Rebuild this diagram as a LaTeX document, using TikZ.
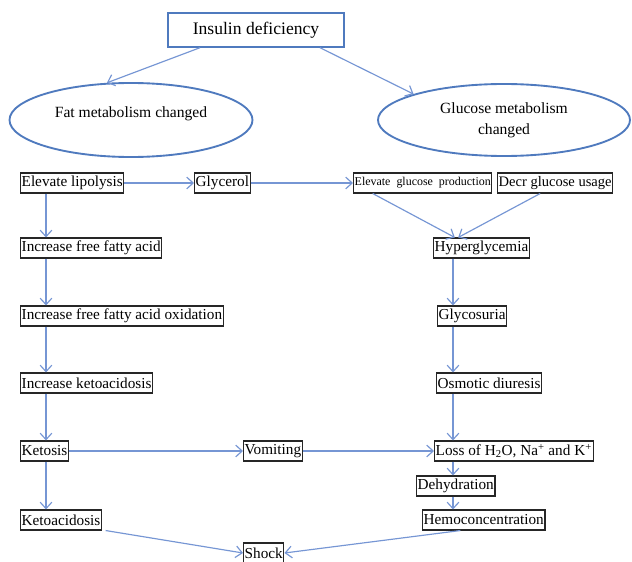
\documentclass[tikz,border=0pt]{standalone}
\usepackage{fontspec}
\setmainfont{Liberation Serif}
\usepackage{tikz}
\usetikzlibrary{shapes.geometric,arrows.meta}
\definecolor{lineblue}{RGB}{118,150,212}
\definecolor{shapeblue}{RGB}{79,122,190}

\begin{document}
\begin{tikzpicture}
[x=0.03cm,y=-0.03cm,
head/.style={rectangle,draw=shapeblue,line width=1.2pt,minimum width=5.28cm,minimum height=1.02cm,font=\fontsize{15}{17}\selectfont},
oval/.style={ellipse,draw=shapeblue,line width=1.6pt,font=\fontsize{13.3}{18}\selectfont,align=center,inner sep=0pt},
stepbox/.style={rectangle,draw=black!85,line width=0.9pt,inner xsep=1pt,inner ysep=0pt,minimum height=0.6cm,anchor=west,font=\fontsize{13}{15}\selectfont},
smallbox/.style={stepbox,font=\fontsize{10.2}{12}\selectfont},
flow/.style={->,draw=lineblue,line width=1pt,>={Straight Barb[length=5.5pt,width=10pt]}}]

\useasboundingbox (0,0) rectangle (632,562);
\coordinate (lcol) at (46,0);
\coordinate (rcol) at (453,0);

\node at (256,30) [head] (insulin) {Insulin deficiency};
\node at (131,120) [oval,minimum width=7.29cm,minimum height=2.22cm,text depth=13pt] (fat) {Fat metabolism changed};
\node at (504,120) [oval,minimum width=7.56cm,minimum height=2.16cm] (glucose) {Glucose metabolism\\changed};

% fat side
\node at (20,183) [stepbox] (lipo)    {Elevate lipolysis};
\node at (194,183)[stepbox] (glycerol){Glycerol};
\node at (20,248) [stepbox] (ffa)     {Increase free fatty acid};
\node at (20,316) [stepbox] (ffaox)   {Increase free fatty acid oxidation};
\node at (20,383) [stepbox] (incketo) {Increase ketoacidosis};
\node at (20,451) [stepbox] (ketosis) {Ketosis};
\node at (20,520) [stepbox] (ketoac)  {Ketoacidosis};
\node at (243,451)[stepbox] (vomit)   {Vomiting};
\node at (243,553)[stepbox] (shock)   {Shock};

% glucose side
\node at (353,183)[smallbox](prod)    {Elevate\ \ glucose\ \ production};
\node at (497,183)[stepbox,font=\fontsize{12.4}{15}\selectfont] (usage) {Decr glucose usage};
\node at (433,248)[stepbox] (hyper)   {Hyperglycemia};
\node at (437,316)[stepbox] (glycos)  {Glycosuria};
\node at (436,383)[stepbox] (osmo)    {Osmotic diuresis};
\node at (434,451)[stepbox] (loss)    {Loss of H\textsubscript{2}O, Na\textsuperscript{+} and K\textsuperscript{+}};
\node at (416,486)[stepbox] (dehyd)   {Dehydration};
\node at (422,520)[stepbox] (hemo)    {Hemoconcentration};

\draw [flow] ([xshift=-1.68cm]insulin.south) to (fat.123);
\draw [flow] ([xshift=1.92cm]insulin.south) to (glucose.164);

\draw [flow] (lipo.east) to (glycerol.west);
\draw [flow] (glycerol.east) to (prod.west);
\draw [flow] ([xshift=-1.5cm]prod.south) to ([xshift=-0.8cm]hyper.north);
\draw [flow] ([xshift=-0.45cm]usage.south) to ([xshift=-0.7cm]hyper.north);

\draw [flow] (lipo.south -| lcol) to (ffa.north -| lcol);
\draw [flow] (ffa.south -| lcol) to (ffaox.north -| lcol);
\draw [flow] (ffaox.south -| lcol) to (incketo.north -| lcol);
\draw [flow] (incketo.south -| lcol) to (ketosis.north -| lcol);
\draw [flow] (ketosis.south -| lcol) to (ketoac.north -| lcol);
\draw [flow] (ketosis.east) to (vomit.west);
\draw [flow] (vomit.east) to (loss.west);

\draw [flow] (hyper.south -| rcol) to (glycos.north -| rcol);
\draw [flow] (glycos.south -| rcol) to (osmo.north -| rcol);
\draw [flow] (osmo.south -| rcol) to (loss.north -| rcol);
\draw [flow] (loss.south -| rcol) to (dehyd.north -| rcol);
\draw [flow] (dehyd.south -| rcol) to (hemo.north -| rcol);

\draw [flow] ([xshift=3pt]ketoac.south east) to (shock.west);
\draw [flow] ([xshift=-0.7cm]hemo.south) to (shock.east);
\end{tikzpicture}
\end{document}
